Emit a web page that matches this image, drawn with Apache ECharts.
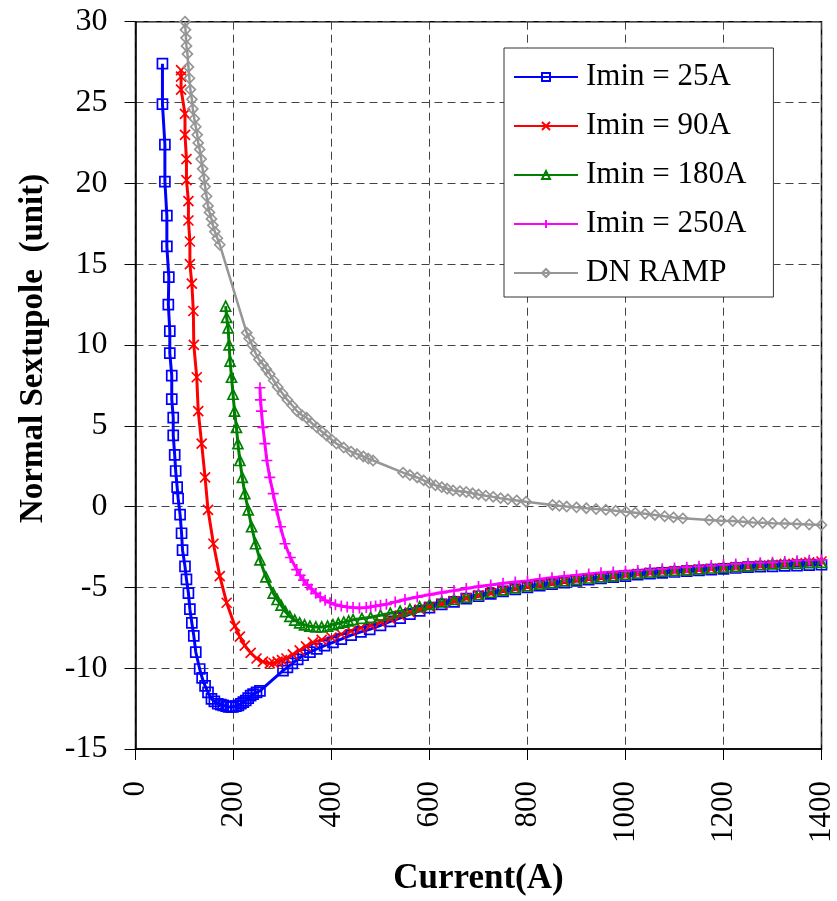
<!DOCTYPE html>
<html>
<head>
<meta charset="utf-8">
<script src="https://cdn.jsdelivr.net/npm/echarts@6/dist/echarts.min.js"></script>
<style>
html,body{margin:0;padding:0;background:#fff;}
#chart{width:837px;height:901px;}
</style>
</head>
<body>
<div id="chart"></div>
<script>
// ---- data ----
var seriesNames = ['Imin = 25A', 'Imin = 90A', 'Imin = 180A', 'Imin = 250A', 'DN RAMP'];

var imin25 = [[55,27.4],[55,24.9],[60,22.4],[60,20.1],[64,18.0],[64,16.1],[68,14.2],[67,12.5],[70,10.85],[70,9.5],[74,8.1],[74,6.65],[77,5.5],[77,4.4],[80,3.2],[82,2.2],[85,1.2],[87,0.5],[91,-0.5],[94,-1.65],[96,-2.7],[101,-3.7],[104,-4.5],[108,-5.35],[111,-6.35],[115,-7.2],[119,-8.0],[123,-9.0],[131,-10.05],[136,-10.6],[142,-11.1],[148,-11.5],[155,-11.9],[161,-12.05],[168,-12.2],[174,-12.25],[179,-12.3],[185,-12.35],[190,-12.4],[195,-12.4],[199,-12.4],[205,-12.35],[210,-12.3],[215,-12.2],[220,-12.1],[225,-12.0],[230,-11.85],[235,-11.7],[240,-11.6],[247,-11.5],[254,-11.4],[301,-10.15],[310,-9.95],[320,-9.7],[331,-9.45],[342,-9.2],[356,-9.0],[370,-8.8],[386,-8.6],[403,-8.4],[420,-8.2],[440,-7.95],[460,-7.75],[478,-7.6],[500,-7.35],[520,-7.1],[540,-6.9],[560,-6.65],[580,-6.45],[600,-6.25],[625,-6.05],[650,-5.9],[675,-5.7],[700,-5.55],[725,-5.4],[750,-5.25],[775,-5.12],[800,-5.0],[825,-4.9],[850,-4.8],[875,-4.7],[900,-4.6],[925,-4.52],[950,-4.45],[975,-4.37],[1000,-4.3],[1025,-4.22],[1050,-4.15],[1075,-4.1],[1100,-4.05],[1125,-4.0],[1150,-3.95],[1175,-3.9],[1200,-3.85],[1225,-3.8],[1250,-3.75],[1275,-3.72],[1300,-3.7],[1325,-3.67],[1350,-3.65],[1375,-3.62],[1400,-3.6]];

var imin90 = [[93,27.0],[93,26.6],[93,25.8],[101,24.3],[101,23.0],[104,21.5],[104,20.2],[108,18.9],[108,17.7],[111,16.4],[111,15.0],[115,13.8],[118,12.1],[119,10.0],[125,8.0],[128,5.9],[135,3.9],[142,1.8],[148,-0.2],[159,-2.3],[172,-4.3],[186,-5.95],[203,-7.4],[213,-8.05],[223,-8.6],[235,-9.05],[247,-9.4],[260,-9.6],[274,-9.7],[282,-9.68],[290,-9.6],[299,-9.5],[308,-9.4],[321,-9.15],[335,-8.9],[348,-8.65],[362,-8.4],[380,-8.25],[400,-8.1],[420,-7.9],[440,-7.7],[460,-7.5],[480,-7.35],[500,-7.15],[520,-6.95],[540,-6.75],[560,-6.55],[580,-6.37],[600,-6.2],[625,-6.02],[650,-5.85],[675,-5.67],[700,-5.5],[725,-5.35],[750,-5.2],[775,-5.07],[800,-4.95],[825,-4.85],[850,-4.75],[875,-4.65],[900,-4.55],[925,-4.47],[950,-4.4],[975,-4.32],[1000,-4.25],[1025,-4.17],[1050,-4.1],[1075,-4.05],[1100,-4.0],[1125,-3.95],[1150,-3.9],[1175,-3.85],[1200,-3.8],[1225,-3.75],[1250,-3.7],[1275,-3.65],[1300,-3.6],[1325,-3.55],[1350,-3.5],[1375,-3.45],[1400,-3.4]];

var imin180 = [[184,12.4],[186,11.7],[189,11.05],[191,10.0],[193,9.0],[196,8.0],[199,6.95],[202,5.9],[206,4.9],[209,3.9],[213,2.85],[218,1.8],[223,0.8],[230,-0.2],[237,-1.25],[245,-2.3],[254,-3.3],[266,-4.35],[281,-5.35],[289,-5.75],[297,-6.1],[306,-6.5],[315,-6.8],[325,-7.02],[335,-7.2],[345,-7.32],[356,-7.4],[368,-7.45],[380,-7.45],[392,-7.4],[403,-7.3],[414,-7.22],[425,-7.15],[435,-7.07],[444,-7.0],[462,-6.92],[480,-6.85],[500,-6.72],[520,-6.6],[540,-6.47],[560,-6.35],[580,-6.2],[600,-6.05],[625,-5.9],[650,-5.75],[675,-5.6],[700,-5.45],[725,-5.3],[750,-5.15],[775,-5.02],[800,-4.9],[825,-4.8],[850,-4.7],[875,-4.6],[900,-4.5],[925,-4.42],[950,-4.35],[975,-4.27],[1000,-4.2],[1025,-4.12],[1050,-4.05],[1075,-4.0],[1100,-3.95],[1125,-3.9],[1150,-3.85],[1175,-3.8],[1200,-3.75],[1225,-3.7],[1250,-3.65],[1275,-3.6],[1300,-3.55],[1325,-3.52],[1350,-3.5],[1375,-3.47],[1400,-3.45]];

var imin250 = [[254,7.35],[255,6.6],[257,5.9],[260,4.9],[264,3.9],[268,2.85],[274,1.8],[281,0.8],[288,-0.2],[296,-1.25],[305,-2.3],[316,-3.15],[329,-3.9],[336,-4.25],[343,-4.55],[351,-4.85],[359,-5.1],[368,-5.37],[377,-5.6],[387,-5.8],[397,-5.95],[408,-6.07],[420,-6.15],[432,-6.22],[444,-6.25],[457,-6.27],[471,-6.25],[480,-6.2],[490,-6.15],[500,-6.1],[512,-6.05],[530,-5.9],[550,-5.75],[575,-5.6],[600,-5.45],[625,-5.32],[650,-5.2],[675,-5.07],[700,-4.95],[725,-4.85],[750,-4.75],[775,-4.67],[800,-4.6],[825,-4.5],[850,-4.4],[875,-4.32],[900,-4.25],[925,-4.17],[950,-4.1],[975,-4.05],[1000,-4.0],[1025,-3.95],[1050,-3.9],[1075,-3.85],[1100,-3.8],[1125,-3.75],[1150,-3.7],[1175,-3.65],[1200,-3.6],[1225,-3.55],[1250,-3.5],[1275,-3.47],[1300,-3.45],[1325,-3.4],[1350,-3.35],[1375,-3.32],[1400,-3.3]];

var dnRamp = [[101,30.0],[102,29.5],[103,29.0],[104,28.5],[106,28.0],[108,27.2],[110,26.5],[112,25.8],[115,25.2],[117,24.6],[120,24.0],[123,23.5],[126,23.0],[128,22.5],[131,22.1],[134,21.5],[137,20.9],[140,20.3],[142,19.8],[145,19.2],[148,18.6],[151,18.2],[155,17.8],[158,17.4],[162,17.0],[167,16.6],[172,16.2],[227,10.75],[232,10.4],[238,10.0],[245,9.5],[252,9.1],[260,8.8],[267,8.5],[274,8.2],[282,7.8],[290,7.4],[300,7.0],[310,6.6],[320,6.25],[330,5.9],[340,5.65],[349,5.5],[360,5.15],[370,4.9],[380,4.65],[390,4.4],[400,4.15],[410,3.9],[425,3.65],[440,3.4],[452,3.25],[465,3.1],[475,2.97],[485,2.85],[546,2.1],[560,1.95],[575,1.8],[588,1.62],[600,1.45],[612,1.32],[625,1.2],[636,1.1],[648,1.0],[662,0.95],[675,0.9],[688,0.82],[700,0.75],[715,0.67],[730,0.6],[745,0.52],[760,0.45],[778,0.38],[797,0.3],[851,0.1],[865,0.05],[880,0.0],[900,-0.05],[920,-0.1],[940,-0.15],[960,-0.2],[980,-0.26],[1001,-0.32],[1020,-0.38],[1040,-0.45],[1060,-0.52],[1080,-0.6],[1098,-0.67],[1117,-0.73],[1171,-0.83],[1195,-0.87],[1219,-0.9],[1240,-0.94],[1260,-0.98],[1280,-1.0],[1300,-1.03],[1325,-1.05],[1350,-1.08],[1375,-1.11],[1400,-1.14]];

var xMin = 0, xMax = 1400, xStep = 200;
var yMin = -15, yMax = 30, yStep = 5;
var xTitle = 'Current(A)';
var yTitle = 'Normal Sextupole  (unit)';

// ---- chart ----
var FONT = '"Liberation Serif", "Times New Roman", serif';
var chart = echarts.init(document.getElementById('chart'), null, {renderer: 'canvas'});

var xPath = 'path://M0,0L10,10M10,0L0,10';
var plusPath = 'path://M5,0L5,10M0,5L10,5';

function mk(name, data, color, symbol, size, hollow, lw) {
  return {
    name: name,
    type: 'line',
    data: data,
    symbol: symbol,
    symbolSize: size,
    showAllSymbol: true,
    lineStyle: {color: color, width: lw},
    itemStyle: {color: hollow ? 'rgba(255,255,255,0)' : color, borderColor: color, borderWidth: 1.7, opacity: 1},
    emphasis: {disabled: true},
    animation: false,
    z: 2
  };
}

var option = {
  backgroundColor: '#ffffff',
  animation: false,
  grid: {left: 135.5, right: 15, top: 21.7, bottom: 147, show: true, borderColor: '#000', borderWidth: 1.5, containLabel: false},
  legend: {
    orient: 'vertical',
    left: 504, top: 48,
    padding: [13, 27, 8, 9],
    itemWidth: 64, itemHeight: 10, itemGap: 17,
    backgroundColor: '#ffffff',
    borderColor: '#333', borderWidth: 1,
    textStyle: {fontFamily: FONT, fontSize: 31, color: '#000', lineHeight: 32, padding: [0,0,0,3]},
    data: seriesNames
  },
  xAxis: {
    type: 'value', min: xMin, max: xMax, interval: xStep,
    name: xTitle, nameLocation: 'middle', nameGap: 112,
    nameTextStyle: {fontFamily: FONT, fontSize: 35, fontWeight: 'bold', color: '#000'},
    axisLine: {show: true, onZero: false, lineStyle: {color: '#000', width: 1.5}},
    axisTick: {show: true, length: 11, lineStyle: {color: '#000', width: 1}},
    axisLabel: {rotate: 90, margin: 32, fontFamily: FONT, fontSize: 31, color: '#000',
      formatter: function (v) { return String(v); }},
    splitLine: {show: true, lineStyle: {color: '#444', width: 1, type: [8, 5]}}
  },
  yAxis: {
    type: 'value', min: yMin, max: yMax, interval: yStep,
    name: yTitle, nameLocation: 'middle', nameGap: 86, nameRotate: 90,
    nameTextStyle: {fontFamily: FONT, fontSize: 33, fontWeight: 'bold', color: '#000', padding: [0, 0, 0, 74]},
    axisLine: {show: true, onZero: false, lineStyle: {color: '#000', width: 1.5}},
    axisTick: {show: true, length: 11, lineStyle: {color: '#000', width: 1}},
    axisLabel: {margin: 28, fontFamily: FONT, fontSize: 32, color: '#000'},
    splitLine: {show: true, lineStyle: {color: '#444', width: 1, type: [8, 5]}}
  },
  series: [
    mk(seriesNames[0], imin25, '#0000ff', 'rect', 10, true, 3),
    mk(seriesNames[1], imin90, '#ff0000', xPath, 10, false, 3),
    mk(seriesNames[2], imin180, '#008000', 'triangle', 10, true, 3),
    mk(seriesNames[3], imin250, '#ff00ff', plusPath, 11, false, 3),
    mk(seriesNames[4], dnRamp, '#969696', 'diamond', 10, true, 2.5)
  ]
};
chart.setOption(option);
</script>
</body>
</html>
